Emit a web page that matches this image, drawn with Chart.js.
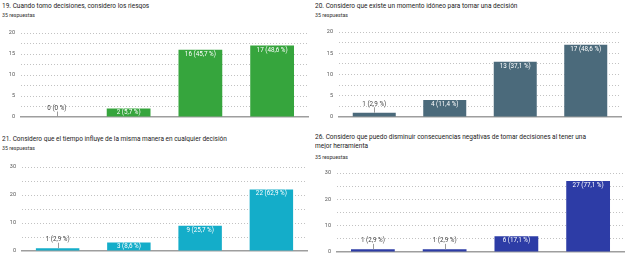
<!DOCTYPE html>
<html>
<head>
<meta charset="utf-8">
<script src="https://cdn.jsdelivr.net/npm/chart.js@4.4.1/dist/chart.umd.min.js"></script>
<style>
body { margin: 0; background: #fff; width: 626px; height: 262px; overflow: hidden; position: relative; font-family: Roboto, Arial, sans-serif; }
.t { position: absolute; white-space: nowrap; color: #1a1a1a; font-size: 10px; line-height: 13.5px; transform-origin: 0 0; }
.s { position: absolute; white-space: nowrap; color: #333; font-size: 10px; line-height: 12px; transform-origin: 0 0; }
canvas { position: absolute; }
</style>
</head>
<body>

<div class="t" style="left:2px;top:1px">19. Cuando tomo decisiones, considero los riesgos</div>
<div class="s" style="left:2px;top:12px">35 respuestas</div>
<canvas id="c1" width="313" height="131" style="left:0;top:0"></canvas>

<div class="t" style="left:315px;top:1px">20. Considero que existe un momento idóneo para tomar una decisión</div>
<div class="s" style="left:315px;top:12px">35 respuestas</div>
<canvas id="c2" width="313" height="131" style="left:313px;top:0"></canvas>

<div class="t" style="left:2px;top:134px">21. Considero que el tiempo influye de la misma manera en cualquier decisión</div>
<div class="s" style="left:2px;top:145px">35 respuestas</div>
<canvas id="c3" width="313" height="131" style="left:0;top:131px"></canvas>

<div class="t" style="left:315px;top:132px">26. Considero que puedo disminuir consecuencias negativas de tomar decisiones al tener una<br>mejor herramienta</div>
<div class="s" style="left:315px;top:154px">35 respuestas</div>
<canvas id="c4" width="313" height="131" style="left:313px;top:131px"></canvas>

<script>
const categories = ['1', '2', '3', '4'];

const q19Values = [0, 2, 16, 17];
const q19Labels = ['0 (0 %)', '2 (5,7 %)', '16 (45,7 %)', '17 (48,6 %)'];

const q20Values = [1, 4, 13, 17];
const q20Labels = ['1 (2,9 %)', '4 (11,4 %)', '13 (37,1 %)', '17 (48,6 %)'];

const q21Values = [1, 3, 9, 22];
const q21Labels = ['1 (2,9 %)', '3 (8,6 %)', '9 (25,7 %)', '22 (62,9 %)'];

const q26Values = [1, 1, 6, 27];
const q26Labels = ['1 (2,9 %)', '1 (2,9 %)', '6 (17,1 %)', '27 (77,1 %)'];

// les textes sont rendus à 10px puis réduits, pour éviter les sauts de rendu aux petites tailles
const titles = document.querySelectorAll('.t');
const tScale = 147 / titles[0].offsetWidth;
titles.forEach(el => { el.style.transform = `scale(${tScale})`; });
const subs = document.querySelectorAll('.s');
const sScale = 33 / subs[0].offsetWidth;
subs.forEach(el => { el.style.transform = `scale(${sScale})`; });

// etiquettes des barres : dedans en blanc si la barre est assez haute, sinon au-dessus avec un trait
const barLabels = {
    id: 'barLabels',
    afterDatasetsDraw(chart, args, opts) {
        const ctx = chart.ctx;
        const meta = chart.getDatasetMeta(0);
        const base = chart.scales.y.getPixelForValue(0);
        ctx.save();
        ctx.font = '6.3px Roboto, Arial, sans-serif';
        ctx.textAlign = 'center';
        ctx.textBaseline = 'middle';
        meta.data.forEach((bar, i) => {
            const h = base - bar.y;
            if (h >= 7) {
                ctx.fillStyle = '#fff';
                ctx.fillText(opts.texts[i], bar.x, bar.y + Math.min(4.5, h / 2));
            } else {
                const ly = bar.y - 8.5;
                ctx.fillStyle = '#444';
                ctx.fillText(opts.texts[i], bar.x, ly);
                ctx.strokeStyle = '#9a9a9a';
                ctx.lineWidth = 1;
                ctx.beginPath();
                ctx.moveTo(Math.round(bar.x) + 0.5, ly + 3);
                ctx.lineTo(Math.round(bar.x) + 0.5, bar.y);
                ctx.stroke();
            }
        });
        ctx.restore();
    }
};

function makeChart(id, values, texts, color, cfg) {
    return new Chart(document.getElementById(id), {
        type: 'bar',
        data: {
            labels: categories,
            datasets: [{
                data: values,
                backgroundColor: color,
                borderWidth: 0,
                categoryPercentage: 1,
                barPercentage: 0.61
            }]
        },
        options: {
            responsive: false,
            animation: false,
            layout: { padding: { top: cfg.top, right: cfg.right, left: 0, bottom: 0 } },
            plugins: {
                legend: { display: false },
                tooltip: { enabled: false },
                barLabels: { texts: texts }
            },
            scales: {
                x: {
                    afterFit: s => { s.height = cfg.xh; },
                    grid: { display: false },
                    border: { color: '#9e9e9e', width: 1.5 },
                    ticks: { color: '#555', padding: cfg.xpad, font: { size: 5.5, family: 'Roboto' } }
                },
                y: {
                    min: 0,
                    max: cfg.max,
                    afterFit: s => { s.width = cfg.yw; },
                    afterBuildTicks: s => {
                        s.ticks = [];
                        for (let v = 0; v <= cfg.max; v += cfg.step / 2) s.ticks.push({ value: v });
                    },
                    grid: {
                        drawTicks: false,
                        color: c => c.tick && c.tick.value === 0 ? 'rgba(0,0,0,0)' : '#c2c2c2',
                        lineWidth: 1
                    },
                    border: { display: false, dash: [1, 2] },
                    ticks: {
                        color: '#555',
                        padding: 6,
                        font: { size: 5.5, family: 'Roboto' },
                        callback: v => (v % cfg.step === 0 ? v : '')
                    }
                }
            }
        },
        plugins: [barLabels]
    });
}

makeChart('c1', q19Values, q19Labels, '#36a53d', { top: 33, right: 5, yw: 21, xh: 14, xpad: 5, max: 20, step: 5 });
makeChart('c2', q20Values, q20Labels, '#4b6a7b', { top: 32, right: 5, yw: 26, xh: 14, xpad: 5, max: 20, step: 5 });
makeChart('c3', q21Values, q21Labels, '#14adc9', { top: 36, right: 6, yw: 22, xh: 11, xpad: 4, max: 30, step: 10 });
makeChart('c4', q26Values, q26Labels, '#2d3ca6', { top: 42, right: 2, yw: 24, xh: 10, xpad: 4, max: 30, step: 10 });
</script>
</body>
</html>
